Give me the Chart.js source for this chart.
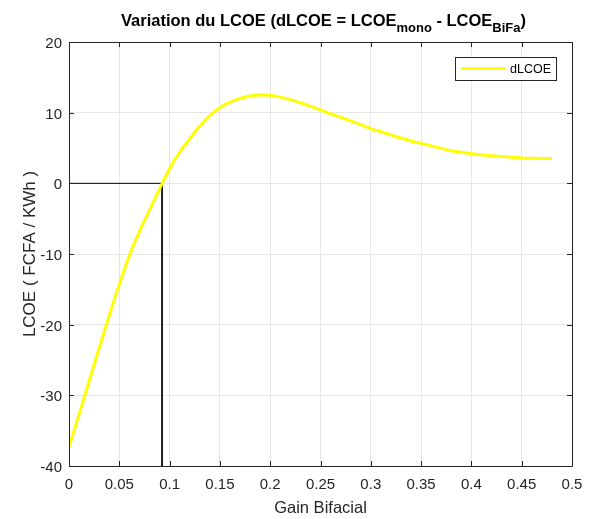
<!DOCTYPE html>
<html>
<head>
<meta charset="utf-8">
<script src="https://cdn.jsdelivr.net/npm/chart.js@4/dist/chart.umd.min.js"></script>
<style>
  html, body { margin: 0; padding: 0; background: #ffffff; }
  #wrap { width: 593px; height: 519px; }
</style>
</head>
<body>
<div id="wrap"><canvas id="c" width="593" height="519"></canvas></div>
<script>
// ---- data ----
const gainBifacial = [0, 0.01, 0.02, 0.03, 0.04, 0.05, 0.06, 0.07, 0.08, 0.09, 0.10, 0.11, 0.12, 0.13, 0.14, 0.15, 0.16, 0.17, 0.18, 0.19, 0.20, 0.21, 0.22, 0.23, 0.24, 0.25, 0.26, 0.27, 0.28, 0.29, 0.30, 0.31, 0.32, 0.33, 0.34, 0.35, 0.36, 0.37, 0.38, 0.39, 0.40, 0.41, 0.42, 0.43, 0.44, 0.45, 0.46, 0.47, 0.48];
const dLCOE        = [-37.3, -32.7, -28.0, -23.3, -18.7, -14.3, -10.2, -6.8, -3.8, -0.8, 2.1, 4.4, 6.3, 8.1, 9.6, 10.7, 11.5, 12.0, 12.35, 12.5, 12.45, 12.2, 11.85, 11.4, 10.9, 10.4, 9.85, 9.35, 8.85, 8.3, 7.75, 7.3, 6.85, 6.42, 6.0, 5.65, 5.3, 4.95, 4.6, 4.4, 4.2, 4.05, 3.9, 3.8, 3.7, 3.6, 3.55, 3.52, 3.5];
const breakEvenX   = [0, 0.0925, 0.0925];
const breakEvenY   = [0, 0, -40];
const xTicks = [0, 0.05, 0.1, 0.15, 0.2, 0.25, 0.3, 0.35, 0.4, 0.45, 0.5];
const yTicks = [-40, -30, -20, -10, 0, 10, 20];
const seriesLabel = 'dLCOE';

const AX = '#262626';
const FONT = "'Liberation Sans', Arial, Helvetica, sans-serif";

const mainPts = gainBifacial.map((x, i) => ({x: x, y: dLCOE[i]}));
const refPts = breakEvenX.map((x, i) => ({x: x, y: breakEvenY[i]}));

const decor = {
  id: 'decor',
  afterDraw(chart) {
    const ctx = chart.ctx;
    const a = chart.chartArea;
    const xs = chart.scales.x, ys = chart.scales.y;
    ctx.save();
    // box
    ctx.strokeStyle = AX;
    ctx.lineWidth = 1;
    ctx.beginPath();
    ctx.rect(Math.round(a.left) + 0.5, Math.round(a.top) + 0.5, Math.round(a.right - a.left), Math.round(a.bottom - a.top));
    ctx.stroke();
    // inward ticks
    ctx.beginPath();
    xTicks.forEach(v => {
      const px = Math.round(xs.getPixelForValue(v)) + 0.5;
      ctx.moveTo(px, a.bottom); ctx.lineTo(px, a.bottom - 5);
      ctx.moveTo(px, a.top); ctx.lineTo(px, a.top + 5);
    });
    yTicks.forEach(v => {
      const py = Math.round(ys.getPixelForValue(v)) + 0.5;
      ctx.moveTo(a.left, py); ctx.lineTo(a.left + 5, py);
      ctx.moveTo(a.right, py); ctx.lineTo(a.right - 5, py);
    });
    ctx.stroke();

    // title with subscripts
    const parts = [
      {t: 'Variation du LCOE (dLCOE = LCOE', sub: false},
      {t: 'mono', sub: true},
      {t: ' - LCOE', sub: false},
      {t: 'BiFa', sub: true},
      {t: ')', sub: false}
    ];
    const mainF = 'bold 16.5px ' + FONT, subF = 'bold 13px ' + FONT;
    let total = 0;
    parts.forEach(p => { ctx.font = p.sub ? subF : mainF; p.w = ctx.measureText(p.t).width; total += p.w; });
    let x = (a.left + a.right) / 2 - total / 2 + 3;
    const base = 26;
    ctx.fillStyle = '#000';
    ctx.textBaseline = 'alphabetic';
    ctx.textAlign = 'left';
    parts.forEach(p => {
      ctx.font = p.sub ? subF : mainF;
      ctx.fillText(p.t, x, p.sub ? base + 6 : base);
      x += p.w;
    });

    // legend
    const lx = 455, ly = 57, lw = 101, lh = 23;
    ctx.fillStyle = '#fff';
    ctx.fillRect(lx, ly, lw, lh);
    ctx.strokeStyle = AX;
    ctx.lineWidth = 1;
    ctx.strokeRect(lx + 0.5, ly + 0.5, lw, lh);
    ctx.strokeStyle = '#ffff00';
    ctx.lineWidth = 3;
    ctx.beginPath();
    ctx.moveTo(lx + 6, ly + 11.5); ctx.lineTo(lx + 50, ly + 11.5);
    ctx.stroke();
    ctx.fillStyle = '#000';
    ctx.font = '12.5px ' + FONT;
    ctx.textBaseline = 'middle';
    ctx.fillText(seriesLabel, lx + 55, ly + 12.5);
    ctx.restore();
  }
};

new Chart(document.getElementById('c'), {
  type: 'scatter',
  data: {
    datasets: [
      {
        label: 'ref',
        data: refPts,
        showLine: true,
        borderColor: '#000000',
        borderWidth: 1,
        pointRadius: 0,
        tension: 0,
        order: 2
      },
      {
        label: seriesLabel,
        data: mainPts,
        showLine: true,
        borderColor: '#ffff00',
        borderWidth: 3,
        pointRadius: 0,
        tension: 0.3,
        order: 1
      }
    ]
  },
  options: {
    responsive: false,
    animation: false,
    layout: { padding: { top: 42, right: 21, left: 0, bottom: 0 } },
    plugins: {
      legend: { display: false },
      title: { display: false },
      tooltip: { enabled: false }
    },
    scales: {
      x: {
        type: 'linear',
        min: 0, max: 0.5,
        afterBuildTicks: s => { s.ticks = xTicks.map(v => ({value: v})); },
        afterFit: s => { s.height = 53; },
        grid: { color: '#e6e6e6', drawTicks: false },
        border: { display: false },
        ticks: {
          color: AX, padding: 10,
          font: { family: FONT, size: 15 },
          maxRotation: 0,
          callback: v => String(+v.toFixed(2))
        },
        title: {
          display: true, text: 'Gain Bifacial', color: AX,
          font: { family: FONT, size: 16.5 },
          padding: { top: 0, bottom: 1 }
        }
      },
      y: {
        type: 'linear',
        min: -40, max: 20,
        afterBuildTicks: s => { s.ticks = yTicks.map(v => ({value: v})); },
        afterFit: s => { s.width = 69; },
        grid: { color: '#e6e6e6', drawTicks: false },
        border: { display: false },
        ticks: {
          color: AX, padding: 7, labelOffset: 2,
          font: { family: FONT, size: 15 },
          callback: v => String(v)
        },
        title: {
          display: true, text: 'LCOE ( FCFA / KWh )', color: AX,
          font: { family: FONT, size: 17 },
          padding: { top: 20, bottom: 0 }
        }
      }
    }
  },
  plugins: [decor]
});
</script>
</body>
</html>
